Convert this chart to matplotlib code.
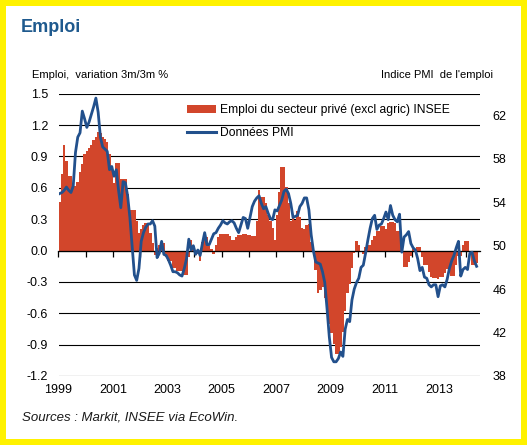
import matplotlib
matplotlib.use('Agg')
import matplotlib.pyplot as plt
import matplotlib.transforms as mtrans
from matplotlib.patches import Rectangle, Patch
from matplotlib.lines import Line2D
import numpy as np

plt.rcParams['font.family'] = ['Liberation Sans', 'DejaVu Sans']
plt.rcParams['axes.unicode_minus'] = False

# ---------------- data (monthly, from Jan 1999) ----------------
start_year = 1999

emploi = [
    0.46, 0.73, 1.01, 0.86, 0.71, 0.71, 0.60, 0.62, 0.66, 0.75,
    0.83, 0.92, 0.95, 0.98, 1.01, 1.06, 1.09, 1.13, 1.12, 1.09,
    1.07, 1.04, 0.92, 0.78, 0.65, 0.84, 0.84, 0.68, 0.68, 0.68,
    0.54, 0.39, 0.39, 0.39, 0.28, 0.17, 0.21, 0.24, 0.26, 0.26,
    0.17, 0.07, -0.04, 0.02, 0.05, 0.06, 0.07, -0.06, -0.10, -0.10,
    -0.17, -0.17, -0.20, -0.20, -0.20, -0.23, -0.23, -0.06, 0.10, 0.04,
    -0.03, -0.03, -0.10, 0.08, 0.13, 0.13, 0.04, 0.01, -0.03, 0.05,
    0.13, 0.16, 0.16, 0.16, 0.16, 0.14, 0.10, 0.10, 0.13, 0.15,
    0.15, 0.16, 0.16, 0.15, 0.15, 0.14, 0.14, 0.28, 0.58, 0.51,
    0.51, 0.45, 0.34, 0.28, 0.22, 0.10, 0.34, 0.56, 0.80, 0.80,
    0.61, 0.45, 0.28, 0.32, 0.29, 0.38, 0.32, 0.22, 0.21, 0.24,
    0.25, 0.08, 0.00, -0.19, -0.41, -0.38, -0.35, -0.45, -0.57, -0.70,
    -0.79, -0.89, -0.99, -0.99, -0.92, -0.78, -0.58, -0.41, -0.32, -0.17,
    -0.02, 0.09, 0.05, 0.00, -0.03, 0.03, 0.05, 0.05, 0.10, 0.14,
    0.19, 0.19, 0.23, 0.23, 0.21, 0.26, 0.27, 0.27, 0.26, 0.19,
    0.19, 0.03, -0.16, -0.16, -0.11, -0.05, 0.01, 0.01, 0.03, 0.03,
    -0.06, -0.14, -0.14, -0.21, -0.25, -0.26, -0.26, -0.27, -0.25, -0.25,
    -0.22, -0.18, -0.18, -0.24, -0.24, -0.14, -0.05, -0.05, 0.05, 0.09,
    0.09, 0.00, -0.14, -0.14, -0.12,
]

pmi = [
    54.8, 54.9, 55.1, 55.4, 55.1, 54.9, 55.5, 58.6, 60.0, 60.4,
    62.4, 61.7, 60.9, 61.4, 62.1, 62.8, 63.6, 62.3, 60.0, 59.1,
    58.9, 58.7, 57.0, 57.3, 56.4, 57.0, 55.1, 53.5, 55.9, 55.8,
    54.6, 52.6, 49.9, 47.3, 46.8, 47.9, 50.4, 51.2, 51.7, 52.0,
    52.0, 52.3, 51.8, 48.9, 49.3, 50.4, 49.2, 49.1, 48.7, 48.2,
    47.6, 47.6, 47.5, 47.3, 47.2, 47.9, 48.8, 50.6, 49.6, 50.0,
    49.2, 49.6, 49.1, 50.2, 51.2, 50.1, 50.1, 50.6, 51.1, 51.2,
    51.6, 51.9, 52.3, 52.1, 52.0, 52.2, 52.3, 52.1, 51.6, 51.2,
    51.9, 52.6, 52.5, 51.6, 52.6, 53.6, 54.1, 54.4, 54.6, 53.9,
    53.4, 53.6, 53.0, 52.5, 52.4, 53.3, 53.2, 53.7, 54.2, 55.0,
    55.2, 54.8, 53.9, 52.6, 52.7, 52.8, 53.6, 53.9, 54.4, 54.4,
    53.3, 51.0, 49.5, 48.5, 48.4, 48.3, 47.6, 46.6, 44.2, 41.6,
    39.7, 39.3, 39.3, 39.6, 40.2, 39.8, 42.3, 43.2, 43.0, 45.0,
    46.0, 46.6, 47.0, 48.0, 48.2, 49.3, 50.5, 51.6, 52.5, 52.8,
    51.5, 51.9, 52.0, 52.5, 53.1, 52.4, 53.7, 52.8, 52.4, 52.2,
    52.9, 49.4, 50.8, 51.0, 51.3, 50.2, 49.8, 49.6, 48.8, 47.7,
    48.0, 47.1, 47.0, 46.4, 46.2, 46.4, 46.4, 45.3, 46.3, 46.4,
    46.2, 46.9, 47.9, 48.6, 49.1, 49.8, 50.4, 47.2, 47.8, 48.0,
    47.8, 49.3, 49.4, 48.6, 48.1,
]

left_ticks = [-1.2, -0.9, -0.6, -0.3, 0.0, 0.3, 0.6, 0.9, 1.2, 1.5]
left_labels = ['-1.2', '-0.9', '-0.6', '-0.3', '0.0', '0.3', '0.6', '0.9', '1.2', '1.5']
right_ticks = [38, 42, 46, 50, 54, 58, 62]
right_labels = ['38', '42', '46', '50', '54', '58', '62']
year_ticks = list(range(1999, 2015))
year_labels = ['1999', '2001', '2003', '2005', '2007', '2009', '2011', '2013']

series_bar = 'Emploi du secteur privé (excl agric) INSEE'
series_line = 'Données PMI'

# ---------------- style ----------------
bar_color = '#D2462B'
line_color = '#22508C'
title_color = '#1F5A8E'
frame_color = '#FFF200'

W, H = 529, 445
fig = plt.figure(figsize=(W / 100, H / 100), dpi=100)
fig.patch.set_facecolor('white')

ax_l, ax_r, ax_t, ax_b = 58.5, 480.0, 93.75, 375.9
ax = fig.add_axes([ax_l / W, (H - ax_b) / H, (ax_r - ax_l) / W, (ax_b - ax_t) / H])

t = start_year + (np.arange(len(emploi)) + 0.5) / 12.0
ax.bar(t, emploi, width=1.12 / 12.0, color=bar_color, edgecolor='none',
       linewidth=0, zorder=1)
ax.set_xlim(1999.0, 2014.5)
ax.set_ylim(-1.2, 1.5)
ax.set_yticks(left_ticks)
ax.set_yticklabels(left_labels)
ax.yaxis.grid(True, color='black', linewidth=0.8)
ax.set_axisbelow(True)
ax.tick_params(axis='y', length=0, pad=7.5, labelsize=9)
for s in ['left', 'right', 'top']:
    ax.spines[s].set_visible(False)
ax.spines['bottom'].set_position(('data', 0))
ax.spines['bottom'].set_linewidth(0.9)
ax.set_xticks(year_ticks)
ax.set_xticklabels([])
ax.tick_params(axis='x', direction='out', length=4, width=0.9, color='black')

trans = mtrans.blended_transform_factory(ax.transData, ax.transAxes)
for lab in year_labels:
    ax.text(int(lab), -0.05, lab, transform=trans, ha='center', va='center',
            fontsize=9)

ax2 = ax.twinx()
t2 = start_year + (np.arange(len(pmi)) + 0.5) / 12.0
ax2.plot(t2, pmi, color=line_color, linewidth=2.0, solid_joinstyle='round', zorder=3)
ax2.set_ylim(38, 64)
ax2.set_yticks(right_ticks)
ax2.set_yticklabels(right_labels)
ax2.tick_params(axis='y', length=0, pad=9, labelsize=9)
for s in ['left', 'right', 'top', 'bottom']:
    ax2.spines[s].set_visible(False)

handles = [Patch(facecolor=bar_color, edgecolor='none'),
           Line2D([], [], color=line_color, linewidth=2.2)]
leg = ax2.legend(handles, [series_bar, series_line], loc='upper left',
                 bbox_to_anchor=((186.7 - ax_l) / (ax_r - ax_l), (ax_b - 104) / (ax_b - ax_t)),
                 frameon=False, fontsize=8.7, handlelength=2.4, handletextpad=0.35,
                 labelspacing=0.9, borderpad=0, borderaxespad=0)

# ---------------- texts ----------------
fig.text(20.5 / W, 1 - 27 / H, 'Emploi', fontsize=13, fontweight='bold',
         color=title_color, ha='left', va='center')
fig.text(32 / W, 1 - 75.5 / H, 'Emploi,  variation 3m/3m %', fontsize=8,
         ha='left', va='center')
fig.text(493 / W, 1 - 75.5 / H, "Indice PMI  de l'emploi", fontsize=8,
         ha='right', va='center')
fig.text(22 / W, 1 - 418 / H, 'Sources : Markit, INSEE via EcoWin.', fontsize=9.5,
         style='italic', ha='left', va='center', color='#1a1a1a')

# yellow frame
fig.patches.append(Rectangle((3 / W, 3.5 / H), 521 / W, 438.5 / H,
                             transform=fig.transFigure, fill=False,
                             edgecolor=frame_color, linewidth=6 * 0.72))

fig.savefig('out.png', dpi=100)
